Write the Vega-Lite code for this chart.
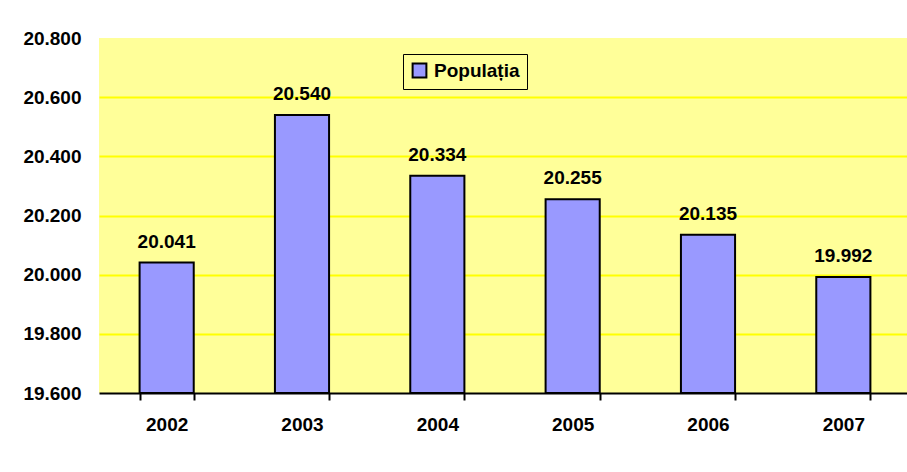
{
  "$schema": "https://vega.github.io/schema/vega-lite/v6.json",
  "width": 812,
  "height": 355,
  "autosize": "none",
  "padding": {"left": 99, "top": 38, "right": 0, "bottom": 79},
  "background": "white",
  "config": {
    "font": "Liberation Sans",
    "view": {"fill": "#FFFF99", "stroke": null},
    "axis": {"labelFont": "Liberation Sans", "labelFontWeight": "bold", "labelFontSize": 19, "labelColor": "black"}
  },
  "data": {
    "values": [
      {"year": "2002", "value": 20.041, "series": "Populația"},
      {"year": "2003", "value": 20.540, "series": "Populația"},
      {"year": "2004", "value": 20.334, "series": "Populația"},
      {"year": "2005", "value": 20.255, "series": "Populația"},
      {"year": "2006", "value": 20.135, "series": "Populația"},
      {"year": "2007", "value": 19.992, "series": "Populația"}
    ]
  },
  "encoding": {
    "x": {
      "field": "year", "type": "nominal", "title": null,
      "scale": {"paddingInner": 0.6, "paddingOuter": 0.3},
      "axis": {"labelAngle": 0, "domainColor": "black", "domainWidth": 2, "tickColor": "black", "tickWidth": 2, "tickSize": 7, "tickBand": "extent", "labelPadding": 15}
    },
    "y": {
      "field": "value", "type": "quantitative", "title": null,
      "scale": {"domain": [19.6, 20.8], "nice": false, "zero": false},
      "axis": {"values": [19.6, 19.8, 20.0, 20.2, 20.4, 20.6, 20.8], "format": ".3f", "domain": false, "ticks": false, "tickSize": 0, "labelPadding": 18,
        "gridColor": {"condition": {"test": "datum.value >= 20.79 || datum.value <= 19.61", "value": "transparent"}, "value": "#FFFF00"}, "gridWidth": 2, "gridOpacity": 1}
    }
  },
  "layer": [
    {
      "mark": {"type": "bar", "stroke": "black", "strokeWidth": 2},
      "encoding": {
        "y2": {"datum": 19.6},
        "color": {
          "field": "series", "type": "nominal",
          "scale": {"range": ["#9999FF"]},
          "legend": {
            "title": null, "orient": "none", "legendX": 304, "legendY": 16,
            "strokeColor": "black", "fillColor": "#FFFF99", "padding": 7,
            "symbolType": "square", "symbolSize": 190, "symbolStrokeColor": "black", "symbolStrokeWidth": 2, "symbolFillColor": "#9999FF",
            "labelFont": "Liberation Sans", "labelFontWeight": "bold", "labelFontSize": 19, "labelColor": "black", "labelOffset": 5
          }
        }
      }
    },
    {
      "mark": {"type": "text", "dy": -15, "baseline": "alphabetic", "font": "Liberation Sans", "fontWeight": "bold", "fontSize": 19, "color": "black"},
      "encoding": {"text": {"field": "value", "type": "quantitative", "format": ".3f"}}
    }
  ]
}
